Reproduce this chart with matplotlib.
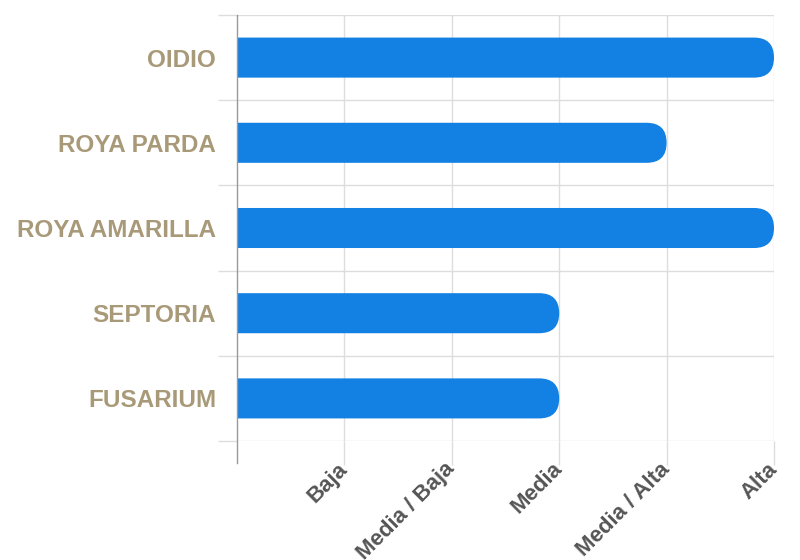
import matplotlib
matplotlib.use("Agg")
import matplotlib.pyplot as plt
from matplotlib.patches import FancyBboxPatch
import matplotlib.transforms as mtransforms

categories = ["OIDIO", "ROYA PARDA", "ROYA AMARILLA", "SEPTORIA", "FUSARIUM"]
values = [5, 4, 5, 3, 3]
level_labels = ["Baja", "Media / Baja", "Media", "Media / Alta", "Alta"]
level_ticks = [1, 2, 3, 4, 5]

W, H = 800, 560
fig = plt.figure(figsize=(W / 100, H / 100), dpi=100)
L, R, T, B = 237, 774, 15, 441
ax = fig.add_axes([L / W, 1 - B / H, (R - L) / W, (B - T) / H])

ax.set_xlim(0, 5)
ax.set_ylim(len(categories) - 0.5, -0.5)

bar_color = "#1380e3"
bar_h = 0.47
px_x = 5 / (R - L)
px_y = len(categories) / (B - T)
aspect = px_y / px_x
rad_px = bar_h / px_y / 2
for i, v in enumerate(values):
    x0 = -0.5
    p = FancyBboxPatch((x0, i - bar_h / 2), v - x0, bar_h,
                       boxstyle=f"round,pad=0,rounding_size={rad_px * px_x}",
                       mutation_aspect=aspect, facecolor=bar_color,
                       edgecolor="none", zorder=3, clip_on=True)
    ax.add_patch(p)

for s in ax.spines.values():
    s.set_visible(False)

# x ticks/grid
ax.set_xticks(level_ticks)
ax.set_xticklabels(level_labels, rotation=45, ha="right", va="center",
                   rotation_mode="anchor",
                   fontsize=16, color="#555555", family="Liberation Sans",
                   fontweight="bold")
ax.tick_params(axis="x", length=17, width=1, color="#dddddd", pad=1)
ax.grid(axis="x", color="#dddddd", linewidth=1, zorder=0)

# y ticks
ax.set_yticks(range(len(categories)))
ax.set_yticklabels(categories, fontsize=17.5, color="#a89a78",
                   family="Liberation Sans", fontweight="bold")
ax.tick_params(axis="y", which="major", length=0, pad=15)
ax.set_yticks([i - 0.5 for i in range(len(categories) + 1)], minor=True)
ax.tick_params(axis="y", which="minor", length=14, width=1, color="#dddddd")
ax.grid(axis="y", which="minor", color="#dddddd", linewidth=1, zorder=0)

# left axis line extending below like a tick
trans = mtransforms.blended_transform_factory(ax.transData, ax.transAxes)
ax.plot([0, 0], [1, -22 / (B - T)], transform=trans, color="#999999",
        linewidth=1, clip_on=False, zorder=4)

ax.set_axisbelow(True)
fig.savefig("out.png", dpi=100, facecolor="white")
